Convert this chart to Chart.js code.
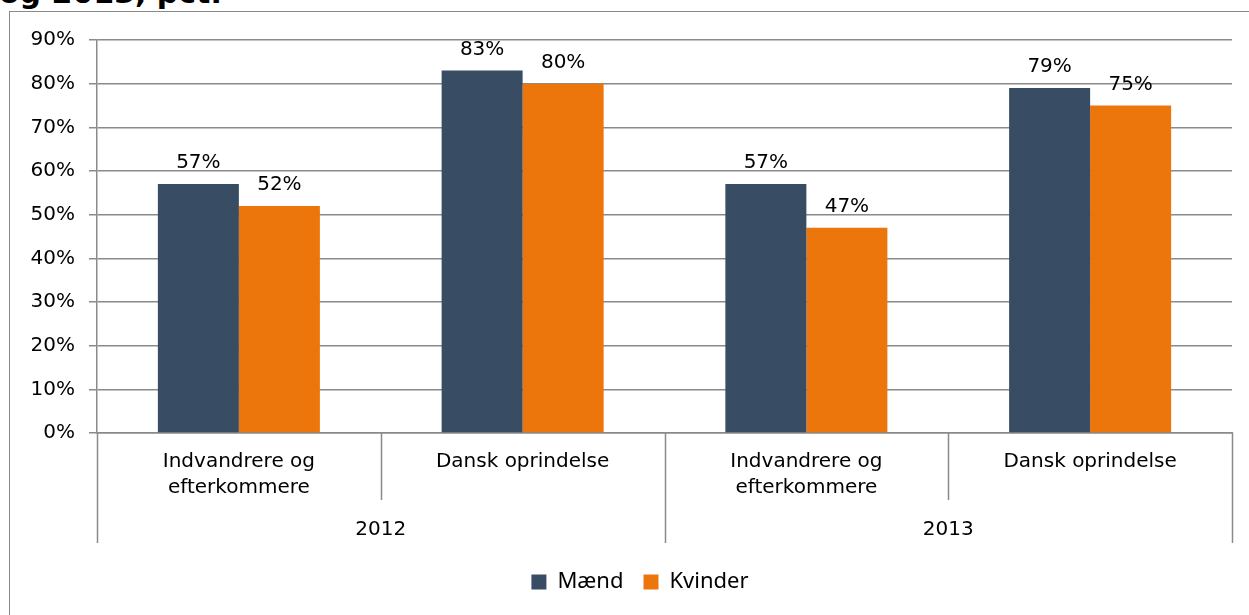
<!DOCTYPE html>
<html>
<head>
<meta charset="utf-8">
<script src="https://cdn.jsdelivr.net/npm/chart.js@4.4.1/dist/chart.umd.min.js"></script>
<style>
  html, body { margin: 0; padding: 0; background: #fff; overflow: hidden; }
  body { width: 1249px; height: 615px; position: relative; }
  #title { position: absolute; left: -1px; top: -22px; font: bold 30px "DejaVu Sans", Verdana, sans-serif; color: #000; white-space: nowrap; line-height: 30px; }
  #frame { position: absolute; left: 9px; top: 11px; width: 1400px; height: 800px; border-left: 1.5px solid #8a8a8a; border-top: 1.5px solid #8a8a8a; background: #fff; }
  #wrap { position: absolute; left: 0; top: 0; width: 1249px; height: 615px; }
</style>
</head>
<body>
<div id="title">og 2013, pct.</div>
<div id="frame"></div>
<div id="wrap"><canvas id="c" width="1249" height="615"></canvas></div>
<script>
// ---- data ----
const categoryLabels = [
  ['Indvandrere og', 'efterkommere'],
  ['Dansk oprindelse'],
  ['Indvandrere og', 'efterkommere'],
  ['Dansk oprindelse']
];
const groupLabels = ['2012', '2013'];
const groupSizes = [2, 2];
const maend = [57, 83, 57, 79];
const kvinder = [52, 80, 47, 75];
const seriesNames = ['Mænd', 'Kvinder'];
const yTicks = [0, 10, 20, 30, 40, 50, 60, 70, 80, 90];

const GRID = '#8a8a8a';
const AXIS_FONT = { family: '"DejaVu Sans", Verdana, sans-serif', size: 20 };

const multiLevelAxis = {
  id: 'multiLevelAxis',
  afterLayout(chart) {
    // nudge the legend to the reference's horizontal centre
    if (chart.legend) { chart.legend.left += 24; chart.legend.right += 24; }
  },
  afterDraw(chart) {
    const x = chart.scales.x;
    const area = chart.chartArea;
    const ctx = chart.ctx;
    const n = categoryLabels.length;
    const half = (x.getPixelForTick(1) - x.getPixelForTick(0)) / 2;
    const bounds = [];
    for (let i = 0; i < n; i++) bounds.push(x.getPixelForTick(i) - half);
    bounds.push(x.getPixelForTick(n - 1) + half);
    const outer = new Set([0]);
    let acc = 0;
    groupSizes.forEach(s => { acc += s; outer.add(acc); });
    ctx.save();
    ctx.strokeStyle = GRID;
    ctx.lineWidth = 1.5;
    bounds.forEach((bx, i) => {
      const px = Math.round(bx) + 0.5;
      ctx.beginPath();
      ctx.moveTo(px, area.bottom);
      ctx.lineTo(px, area.bottom + (outer.has(i) ? 110 : 67));
      ctx.stroke();
    });
    ctx.fillStyle = '#000';
    ctx.font = '20px "DejaVu Sans", Verdana, sans-serif';
    ctx.textAlign = 'center';
    ctx.textBaseline = 'middle';
    let start = 0;
    groupLabels.forEach((g, gi) => {
      const end = start + groupSizes[gi];
      ctx.fillText(g, (bounds[start] + bounds[end]) / 2, area.bottom + 97);
      start = end;
    });
    ctx.restore();
  }
};

const barLabels = {
  id: 'barLabels',
  afterDatasetsDraw(chart) {
    const ctx = chart.ctx;
    ctx.save();
    ctx.fillStyle = '#000';
    ctx.font = '20px "DejaVu Sans", Verdana, sans-serif';
    ctx.textAlign = 'center';
    ctx.textBaseline = 'alphabetic';
    chart.data.datasets.forEach((ds, di) => {
      const meta = chart.getDatasetMeta(di);
      meta.data.forEach((bar, i) => {
        ctx.fillText(ds.data[i] + '%', bar.x, bar.y - 16);
      });
    });
    ctx.restore();
  }
};

new Chart(document.getElementById('c'), {
  type: 'bar',
  data: {
    labels: categoryLabels,
    datasets: [
      { label: seriesNames[0], data: maend, backgroundColor: '#384d63', borderWidth: 0 },
      { label: seriesNames[1], data: kvinder, backgroundColor: '#ec760c', borderWidth: 0 }
    ]
  },
  options: {
    responsive: false,
    animation: false,
    devicePixelRatio: 1,
    layout: { padding: { left: 0, right: 17, top: 40, bottom: 12 } },
    datasets: { bar: { categoryPercentage: 0.571, barPercentage: 1.0 } },
    plugins: {
      title: { display: false },
      tooltip: { enabled: false },
      legend: {
        display: true,
        position: 'bottom',
        labels: {
          boxWidth: 15,
          boxHeight: 15,
          padding: 20,
          color: '#000',
          font: { family: '"Noto Sans", "Open Sans", sans-serif', size: 22 }
        }
      }
    },
    scales: {
      x: {
        grid: { display: false, drawTicks: false },
        border: { display: true, color: GRID, width: 1.5 },
        ticks: { color: '#000', font: { ...AXIS_FONT, lineHeight: 1.3 }, padding: 16, maxRotation: 0, autoSkip: false },
        afterFit(scale) { scale.height = 118; }
      },
      y: {
        min: 0,
        max: 90,
        afterBuildTicks(scale) { scale.ticks = yTicks.map(v => ({ value: v })); },
        grid: { color: GRID, lineWidth: 1.5, tickLength: 8, drawTicks: true },
        border: { display: true, color: GRID, width: 1.5 },
        ticks: { color: '#000', font: AXIS_FONT, padding: 14, callback: v => v + '%' },
        afterFit(scale) { scale.width = 97; }
      }
    }
  },
  plugins: [multiLevelAxis, barLabels]
});
</script>
</body>
</html>
